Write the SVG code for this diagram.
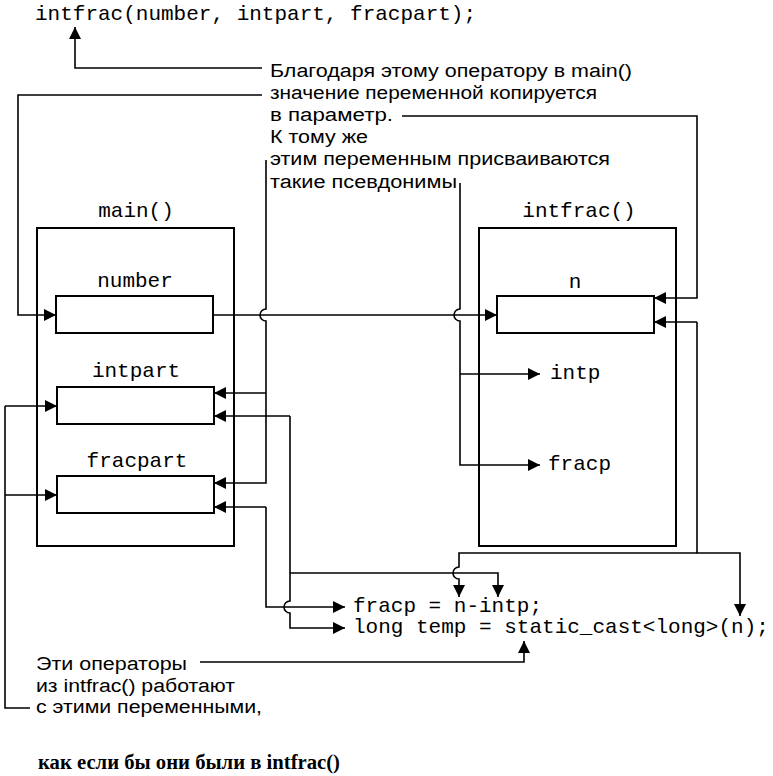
<svg xmlns="http://www.w3.org/2000/svg" width="773" height="776" viewBox="0 0 773 776">
<defs>
<marker id="ah" viewBox="0 0 12 12" refX="12" refY="6" markerWidth="12" markerHeight="12" markerUnits="userSpaceOnUse" orient="auto">
<path d="M0,0 L12,6 L0,12 z" fill="#000"/>
</marker>
</defs>
<style>
.code{font-family:"Liberation Mono","Courier New",monospace;font-size:21px;fill:#000}
.sans{font-family:"Liberation Sans",Arial,sans-serif;font-size:18px;fill:#000}
.bold{font-family:"Liberation Serif","Times New Roman",serif;font-size:20px;font-weight:bold;fill:#000}
.box{fill:none;stroke:#000;stroke-width:2}
.ln{fill:none;stroke:#000;stroke-width:1.6}
.arr{marker-end:url(#ah)}
</style>
<rect width="773" height="776" fill="#fff"/>

<text class="code" x="35" y="20">intfrac(number, intpart, fracpart);</text>

<g id="note-top">
<text class="sans" x="270" y="77" textLength="362" lengthAdjust="spacingAndGlyphs">Благодаря этому оператору в main()</text>
<text class="sans" x="270" y="99" textLength="327" lengthAdjust="spacingAndGlyphs">значение переменной копируется</text>
<text class="sans" x="270" y="121" textLength="123" lengthAdjust="spacingAndGlyphs">в параметр.</text>
<text class="sans" x="270" y="143" textLength="98" lengthAdjust="spacingAndGlyphs">К тому же</text>
<text class="sans" x="270" y="165" textLength="340" lengthAdjust="spacingAndGlyphs">этим переменным присваиваются</text>
<text class="sans" x="270" y="188" textLength="187" lengthAdjust="spacingAndGlyphs">такие псевдонимы</text>
</g>

<g id="main">
<text class="code" x="136" y="217" text-anchor="middle">main()</text>
<rect class="box" x="37" y="228" width="197" height="318"/>
</g>
<g id="number">
<text class="code" x="135" y="287" text-anchor="middle">number</text>
<rect class="box" x="56" y="296" width="157" height="37"/>
</g>
<g id="intpart">
<text class="code" x="136" y="377" text-anchor="middle">intpart</text>
<rect class="box" x="57" y="387" width="157" height="37"/>
</g>
<g id="fracpart">
<text class="code" x="137" y="467" text-anchor="middle">fracpart</text>
<rect class="box" x="57" y="476" width="157" height="37"/>
</g>

<g id="intfrac">
<text class="code" x="579" y="217" text-anchor="middle">intfrac()</text>
<rect class="box" x="479" y="228" width="197" height="318"/>
</g>
<g id="n">
<text class="code" x="575" y="288" text-anchor="middle">n</text>
<rect class="box" x="497" y="296" width="157" height="37"/>
</g>
<g id="intp">
<text class="code" x="550" y="379">intp</text>
</g>
<g id="fracp">
<text class="code" x="548" y="470">fracp</text>
</g>

<g id="code-lines">
<text class="code" x="353" y="612">fracp = n-intp;</text>
<text class="code" x="353" y="633">long temp = static_cast&lt;long&gt;(n);</text>
</g>

<g id="note-bottom">
<text class="sans" x="36" y="670" textLength="151" lengthAdjust="spacingAndGlyphs">Эти операторы</text>
<text class="sans" x="36" y="692" textLength="199" lengthAdjust="spacingAndGlyphs">из intfrac() работают</text>
<text class="sans" x="36" y="713" textLength="226" lengthAdjust="spacingAndGlyphs">с этими переменными,</text>
<text class="bold" x="38" y="769" textLength="302" lengthAdjust="spacingAndGlyphs">как если бы они были в intfrac()</text>
</g>

<g id="connectors">
<path class="ln arr" d="M262 68 H75 V27"/>
<path class="ln arr" d="M262 95 H18 V315 H56"/>
<path class="ln arr" d="M213 315 H497"/>
<path class="ln arr" d="M266 160 V309 A6 6 0 0 0 266 321 V483 H214"/>
<path class="ln arr" d="M266 393 H214"/>
<path class="ln arr" d="M460 183 V309 A6 6 0 0 0 460 321 V465 H540"/>
<path class="ln arr" d="M460 374 H540"/>
<path class="ln arr" d="M402 116 H697 V298 H654"/>
<path class="ln arr" d="M697 322 H654"/>
<path class="ln arr" d="M697 322 V553 H740 V616"/>
<path class="ln arr" d="M697 553 H459 V567 A6 6 0 0 0 459 579 V597"/>
<path class="ln arr" d="M290 416 H214"/>
<path class="ln arr" d="M290 416 V601 A6 6 0 0 0 290 613 V628 H345"/>
<path class="ln arr" d="M290 573 H498 V597"/>
<path class="ln arr" d="M266 507 H214"/>
<path class="ln arr" d="M266 507 V607 H345"/>
<path class="ln arr" d="M5 406 H57"/>
<path class="ln" d="M5 406 V708 H30"/>
<path class="ln arr" d="M5 495 H57"/>
<path class="ln arr" d="M200 662 H524 V641"/>
</g>
</svg>
